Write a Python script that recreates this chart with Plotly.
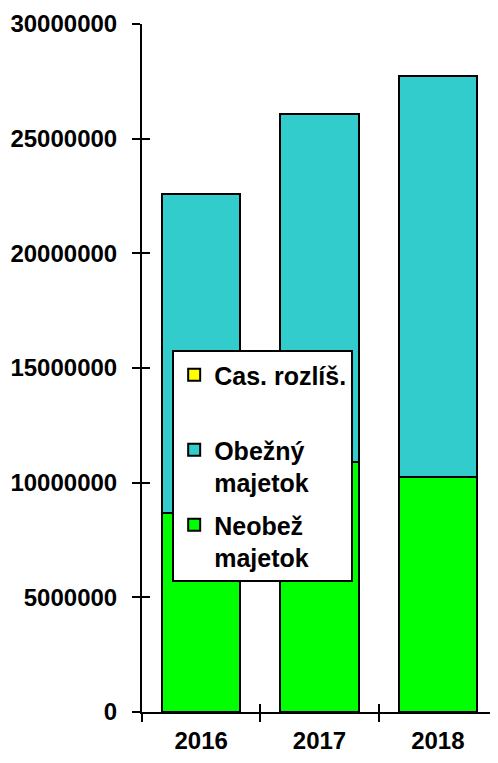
import plotly.graph_objects as go

years = ["2016", "2017", "2018"]
neobez = [8680000, 10900000, 10250000]
obezny = [13910000, 15180000, 17490000]
cas_rozlis = [0, 0, 0]
y_ticks = [0, 5000000, 10000000, 15000000, 20000000, 25000000, 30000000]
series_names = ["Neobež<br>majetok", "Obežný<br>majetok", "Cas. rozlíš.<br> "]
colors = ["#00FF00", "#33CCCC", "#FFFF00"]

FONT = "Liberation Sans, Arial, sans-serif"

fig = go.Figure()
for i, (vals, name, col) in enumerate(zip([neobez, obezny, cas_rozlis], series_names, colors)):
    fig.add_trace(go.Bar(
        x=years, y=vals, name=name, legendgroup="g%d" % i, legendrank=3 - i,
        marker=dict(color=col, line=dict(color="black", width=2)),
    ))

# dummy trace to create overlay axes for the inner halves of the ticks
fig.add_trace(go.Scatter(x=[], y=[], xaxis="x2", yaxis="y2", showlegend=False, hoverinfo="skip"))

# page body has an 8px default margin, so the figure is offset by 8px
fig.update_layout(
    width=490, height=755,
    margin=dict(l=134, r=1, t=16, b=51),
    paper_bgcolor="white", plot_bgcolor="white",
    barmode="stack", bargap=0.34,
    font=dict(family=FONT, size=24, color="black"),
    showlegend=True,
    legend=dict(
        x=0.085, y=0.526, xanchor="left", yanchor="top",
        bgcolor="white", bordercolor="black", borderwidth=2,
        traceorder="grouped", tracegroupgap=7, valign="top",
        font=dict(family=FONT, size=25, color="black", weight="bold"),
        itemwidth=30,
    ),
    xaxis=dict(
        type="category", range=[-0.5, 2.5],
        showline=True, linecolor="black", linewidth=2,
        ticks="outside", ticklen=8, tickwidth=2, tickcolor="black",
        tickson="boundaries", showgrid=False, zeroline=False,
        tickfont=dict(family=FONT, size=24, color="black", weight="bold"),
        ticklabelstandoff=6,
    ),
    yaxis=dict(
        range=[0, 30000000], tickvals=y_ticks,
        ticktext=[str(v) for v in y_ticks],
        showline=True, linecolor="black", linewidth=2,
        ticks="outside", ticklen=8, tickwidth=2, tickcolor="black",
        showgrid=False, zeroline=False,
        tickfont=dict(family=FONT, size=24, color="black", weight="bold"),
        ticklabelstandoff=10,
    ),
    xaxis2=dict(
        overlaying="x", anchor="y", side="bottom", range=[-0.5, 2.5],
        tickvals=[-0.5, 0.5, 1.5, 2.5], ticks="inside", ticklen=8, tickwidth=2,
        tickcolor="black", showticklabels=False, showline=False,
        showgrid=False, zeroline=False,
    ),
    yaxis2=dict(
        overlaying="y", anchor="x", side="left", range=[0, 30000000],
        tickvals=y_ticks, ticks="inside", ticklen=8, tickwidth=2,
        tickcolor="black", showticklabels=False, showline=False,
        showgrid=False, zeroline=False,
    ),
)

fig.write_html("out.html")
